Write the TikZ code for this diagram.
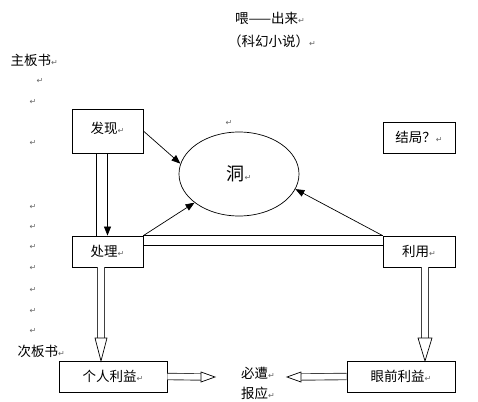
\documentclass[tikz,border=0pt]{standalone}
\usepackage{fontspec}
\setmainfont{Noto Sans CJK SC}
\newfontfamily\marksfont{DejaVu Sans}
\usetikzlibrary{shapes.geometric, arrows.meta}
\newcommand{\retmark}{{\marksfont\fontsize{8}{8}\selectfont\textcolor{gray!80!black}{↵}}}

\begin{document}
\begin{tikzpicture}[x=1pt, y=-1pt,
  font=\fontsize{13.5}{15}\selectfont,
  box/.style={rectangle, draw=black, line width=0.8pt, minimum width=71pt, minimum height=31pt, inner sep=0pt},
  hole/.style={ellipse, draw=black, line width=0.7pt, minimum width=120pt, minimum height=84pt, inner sep=0pt},
  arrow/.style={line width=0.7pt, -{Triangle[length=9pt, width=7pt]}},
  link/.style={line width=0.7pt},
  hollow/.style={draw=gray!50!black, line width=0.9pt, double=white, double distance=5.5pt},
  hollowhead/.style={draw=black, line width=0.7pt, fill=white},
  pmark/.style={inner sep=0pt}
]
\useasboundingbox (0,0) rectangle (478,401);

% titles
\node (title) at (270,18) {喂——出来\retmark};
\node (genre) at (272,41) {（科幻小说）\retmark};
\node[anchor=west] (zhu) at (7,60) {主板书\retmark};
\node[anchor=west] (ci) at (14,351) {次板书\retmark};

% main board
\node[box, minimum height=44pt] (faxian) at (107.5,131) {\raisebox{6pt}{发现\retmark}};
\node[box] (chuli) at (107.5,251.5) {处理\retmark};
\node[box, minimum width=72pt] (liyong) at (419,251.5) {利用\retmark};
\node[box, minimum width=72pt] (jieju) at (419,137.5) {结局？\retmark};
\node[hole] (dong) at (239,174) {\fontsize{18}{20}\selectfont 洞\retmark};

% second board
\node[box, minimum width=108pt] (geren) at (113,376.5) {个人利益\retmark};
\node[box, minimum width=108pt] (yanqian) at (401,376.5) {眼前利益\retmark};
\node[align=left, font=\fontsize{13.5}{20}\selectfont] (baoying) at (258,383) {必遭\retmark\\报应\retmark};

% paragraph marks
\node[pmark] (m0) at (40,81) {\retmark};
\foreach \y [count=\i] in {102,143,207,227,247,268,290,311,331}
  \node[pmark] (m\i) at (33,\y) {\retmark};
\node[pmark] (m10) at (229,123) {\retmark};

% connectors
\draw[arrow] (faxian.east) -- (dong.170);
\draw[arrow] (chuli.north east) -- (dong);
\draw[arrow] (liyong.north west) -- (dong.345);
\draw[link] ([xshift=-11.5pt]faxian.south) -- ([xshift=-11.5pt]chuli.north);
\draw[arrow] (faxian.south) -- (chuli.north);
\draw[link] (chuli.north east) -- (liyong.north west);
\draw[link] ([yshift=-10pt]chuli.north east) -- ([yshift=-10pt]liyong.north west);

% hollow arrows
\coordinate (t1) at (101,361);
\draw[hollow] ([xshift=-6.5pt]chuli.south) -- ([yshift=23pt]t1);
\draw[hollowhead] (t1) -- ++(-6,-23) -- ++(12,0) -- cycle;
\coordinate (t2) at (425,361);
\draw[hollow] ([xshift=6pt]liyong.south) -- ([yshift=23pt]t2);
\draw[hollowhead] (t2) -- ++(-7,-23) -- ++(14,0) -- cycle;
\coordinate (t3) at (215,377);
\draw[hollow] (geren.east) -- ([xshift=-14pt]t3);
\draw[hollowhead] (t3) -- ++(-14,-5) -- ++(0,10) -- cycle;
\coordinate (t4) at (287,377);
\draw[hollow] (yanqian.west) -- ([xshift=14pt]t4);
\draw[hollowhead] (t4) -- ++(14,-5) -- ++(0,10) -- cycle;

\end{tikzpicture}
\end{document}
